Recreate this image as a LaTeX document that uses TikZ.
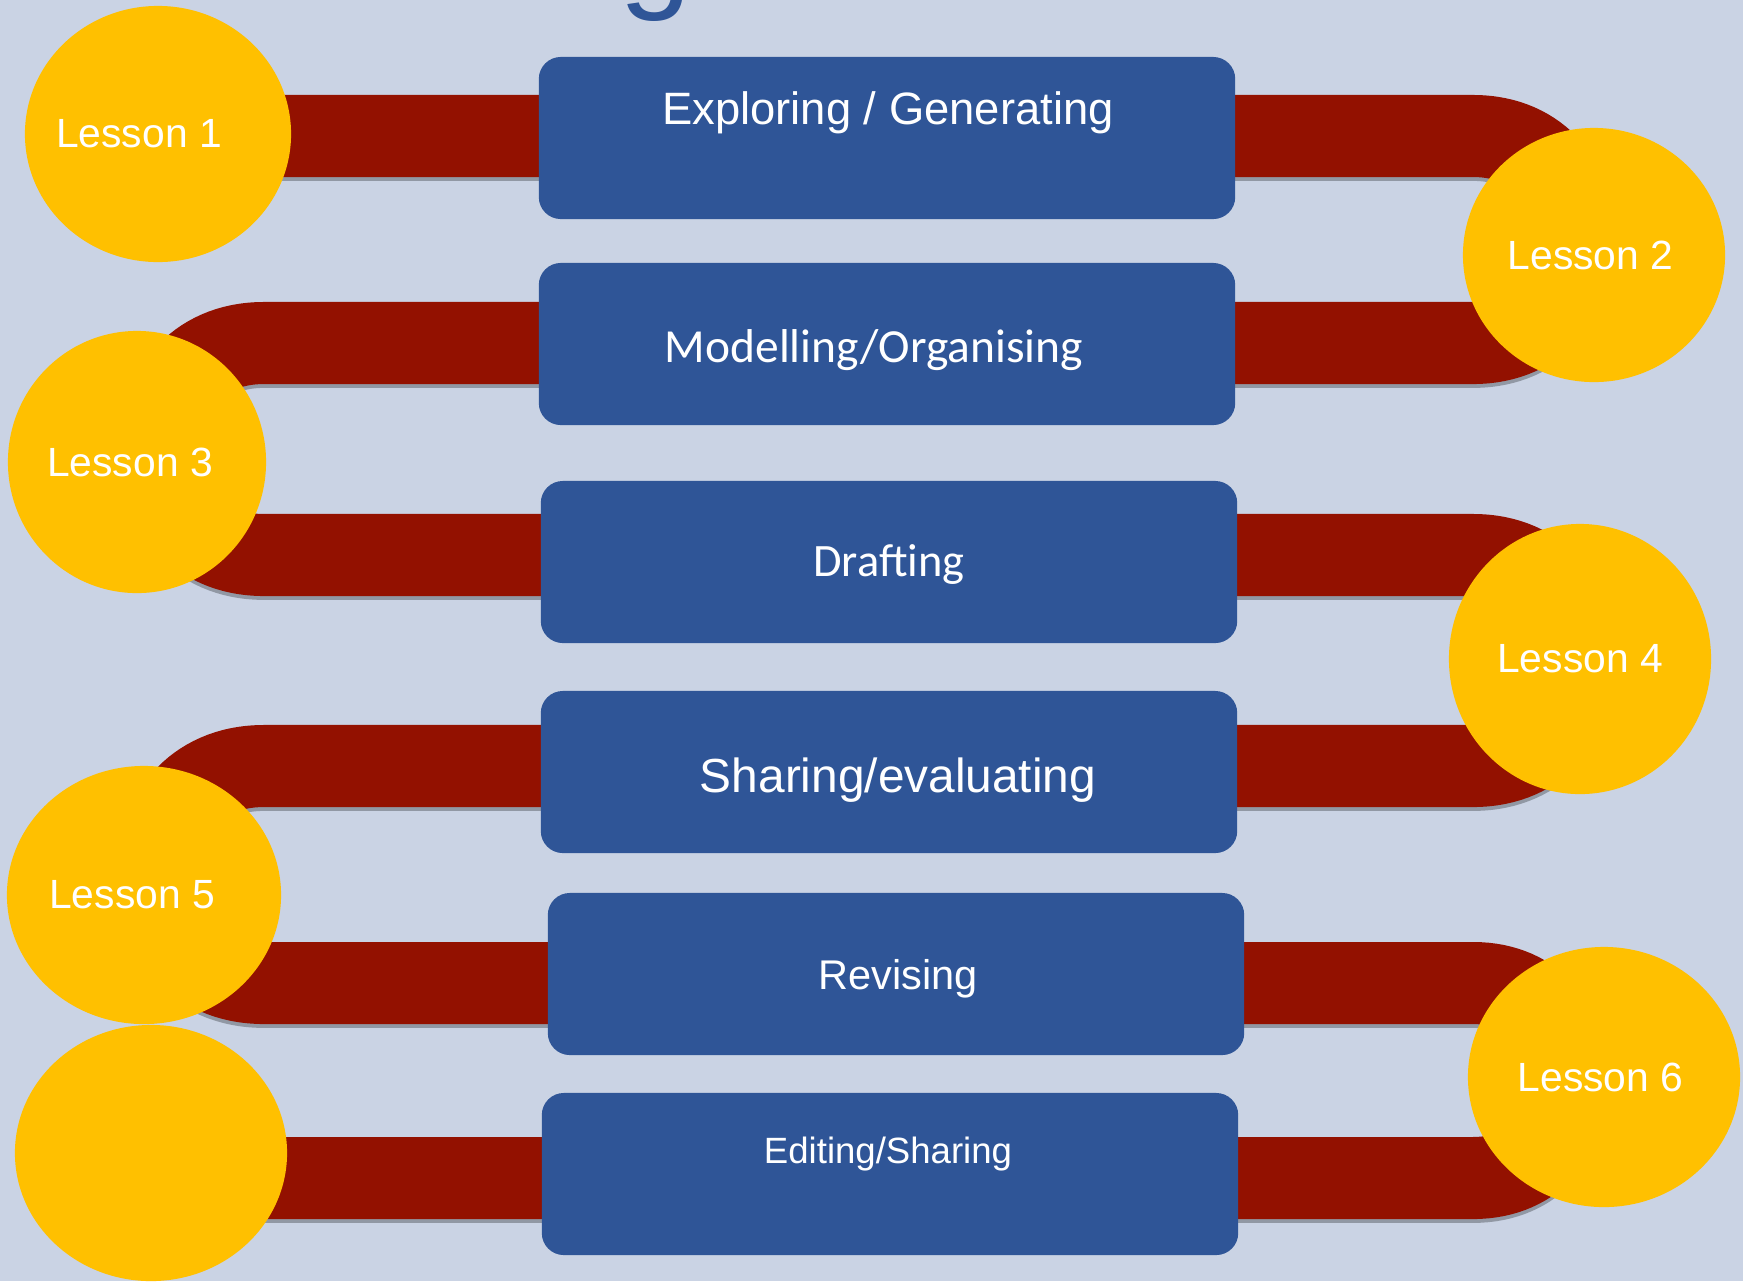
\documentclass[tikz,border=0pt]{standalone}
\usepackage{fontspec}
\setmainfont{Liberation Sans}
\newfontfamily\calibrifont{Carlito}
\usepackage{xcolor}
\usetikzlibrary{shapes.geometric}
\definecolor{bgblue}{HTML}{CAD3E4}
\definecolor{boxblue}{HTML}{2F5597}
\definecolor{bandred}{HTML}{931100}
\definecolor{lessongold}{HTML}{FFC000}

\begin{document}
\begin{tikzpicture}[x=0.01cm,y=-0.01cm,
  band/.style={draw=bandred,line width=0.82cm},
  bandshadow/.style={draw=black,line width=0.82cm,opacity=0.28,transform canvas={yshift=-1.1pt}},
  stage/.style={fill=boxblue,rounded corners=0.22cm,minimum width=6.96cm,minimum height=1.62cm,inner sep=0},
  stagetext/.style={text=white,anchor=base,inner sep=0},
  lesson/.style={ellipse,fill=lessongold,inner sep=0},
  lessontext/.style={text=white,font=\fontsize{11.6}{14}\selectfont}]
  \useasboundingbox (0,0) rectangle (1743,1281);
  \fill[bgblue] (0,0) rectangle (1743,1281);
  \clip (0,0) rectangle (1743,1281);
  \node[text=boxblue,anchor=base,inner sep=0,font=\fontsize{37}{40}\selectfont] (title) at (656,-6) {g};

  \coordinate (a1) at (200,136);
  \coordinate (r1) at (1473,136);
  \coordinate (r2) at (1473,343);
  \coordinate (q2) at (264,343);
  \coordinate (q3) at (264,555);
  \coordinate (r3) at (1473,555);
  \coordinate (r4) at (1473,766);
  \coordinate (q4) at (264,766);
  \coordinate (q5) at (264,983);
  \coordinate (r5) at (1473,983);
  \coordinate (r6) at (1473,1178);
  \coordinate (e6) at (200,1178);

  \draw[bandshadow] (a1) -- (r1) to[out=0,in=0,looseness=1.7] (r2) -- (q2)
    to[out=180,in=180,looseness=1.7] (q3) -- (r3) to[out=0,in=0,looseness=1.7] (r4) -- (q4)
    to[out=180,in=180,looseness=1.7] (q5) -- (r5) to[out=0,in=0,looseness=1.7] (r6) -- (e6);
  \draw[band] (a1) -- (r1) to[out=0,in=0,looseness=1.7] (r2) -- (q2)
    to[out=180,in=180,looseness=1.7] (q3) -- (r3) to[out=0,in=0,looseness=1.7] (r4) -- (q4)
    to[out=180,in=180,looseness=1.7] (q5) -- (r5) to[out=0,in=0,looseness=1.7] (r6) -- (e6);

  \node[stage] (s1) at (887,138) {};
  \node[stage] (s2) at (887,344) {};
  \node[stage] (s3) at (889,562) {};
  \node[stage] (s4) at (889,772) {};
  \node[stage] (s5) at (896,974) {};
  \node[stage] (s6) at (890,1174) {};

  \node[stagetext,font=\fontsize{12.9}{15}\selectfont] (s1text) at (888,124) {Exploring / Generating};
  \node[stagetext,font=\calibrifont\fontsize{13.5}{16}\selectfont] (s2text) at (874,362) {Modelling/Organising};
  \node[stagetext,font=\calibrifont\fontsize{13.2}{16}\selectfont] (s3text) at (889,576) {Drafting};
  \node[stagetext,font=\fontsize{13.6}{16}\selectfont] (s4text) at (898,792) {Sharing/evaluating};
  \node[stagetext,font=\fontsize{11.8}{14}\selectfont] (s5text) at (898,989) {Revising};
  \node[stagetext,font=\fontsize{10.4}{12}\selectfont] (s6text) at (888,1163) {Editing/Sharing};

  \node[lesson,minimum width=2.66cm,minimum height=2.56cm,
    label={[lessontext,xshift=-5.4pt]center:Lesson 1}] (l1) at (158,134) {};
  \node[lesson,minimum width=2.62cm,minimum height=2.54cm,
    label={[lessontext,xshift=-1pt]center:Lesson 2}] (l2) at (1594,255) {};
  \node[lesson,minimum width=2.58cm,minimum height=2.62cm,
    label={[lessontext,xshift=-2pt]center:Lesson 3}] (l3) at (137,462) {};
  \node[lesson,minimum width=2.62cm,minimum height=2.70cm,
    label={[lessontext]center:Lesson 4}] (l4) at (1580,659) {};
  \node[lesson,minimum width=2.74cm,minimum height=2.58cm,
    label={[lessontext,xshift=-3.4pt]center:Lesson 5}] (l5) at (144,895) {};
  \node[lesson,minimum width=2.72cm,minimum height=2.60cm,
    label={[lessontext,xshift=-1pt]center:Lesson 6}] (l6) at (1604,1077) {};
  \node[lesson,minimum width=2.72cm,minimum height=2.56cm] (l7) at (151,1153) {};
\end{tikzpicture}
\end{document}
